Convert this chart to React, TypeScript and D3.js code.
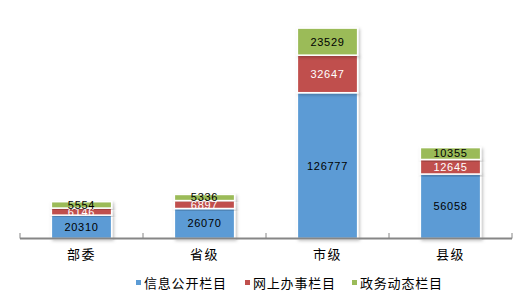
import React from "react";
import * as d3 from "d3";

const categories = ["部委", "省级", "市级", "县级"];
const seriesNames = ["信息公开栏目", "网上办事栏目", "政务动态栏目"];
const infoValues = [20310, 26070, 126777, 56058];
const serviceValues = [6146, 6897, 32647, 12645];
const newsValues = [5554, 5336, 23529, 10355];
const colors = ["#5B9BD5", "#C0504D", "#9BBB59"];
const labelColors = ["#000", "#fff", "#000"];

const W = 524;
const H = 306;

export default function App() {
  const x = d3.scaleBand<string>().domain(categories).range([20, 512]).paddingInner(0).paddingOuter(0);
  const y = d3.scaleLinear().domain([0, 200000]).range([238.5, 8.5]);
  const rows = categories.map((c, i) => ({
    cat: c,
    s0: infoValues[i],
    s1: serviceValues[i],
    s2: newsValues[i],
  }));
  const stack = d3.stack<any>().keys(["s0", "s1", "s2"]);
  const layers = stack(rows);
  const bw = x.bandwidth() * 0.49;
  const num = "'Liberation Sans', Arial, sans-serif";
  const cjk = "'Noto Sans CJK SC', sans-serif";
  const ticks = [...categories.map((c) => x(c)!), 512];
  const legendX = [136, 245, 352];

  return (
    <svg width={W} height={H} style={{ position: "absolute", left: 0, top: 0 }}>
      <defs>
        <filter id="sh" x="-20%" y="-20%" width="140%" height="140%">
          <feDropShadow dx="1.5" dy="1.5" stdDeviation="1.5" floodColor="#000" floodOpacity="0.25" />
        </filter>
      </defs>
      <rect width={W} height={H} fill="#fff" />
      {layers.map((layer, li) =>
        layer.map((d, i) => {
          const cx = x(categories[i])! + x.bandwidth() / 2;
          const y0 = y(d[0]);
          const y1 = y(d[1]);
          return (
            <rect
              key={`r${li}-${i}`}
              x={cx - bw / 2}
              y={y1}
              width={bw}
              height={y0 - y1}
              fill={colors[li]}
              stroke="#fff"
              strokeWidth={1.5}
              filter="url(#sh)"
            />
          );
        })
      )}
      {layers.map((layer, li) =>
        layer.map((d, i) => {
          const cx = x(categories[i])! + x.bandwidth() / 2;
          const cy = (y(d[0]) + y(d[1])) / 2;
          return (
            <text
              key={`t${li}-${i}`}
              x={cx}
              y={cy}
              dy="0.36em"
              textAnchor="middle"
              fontFamily={num}
              fontSize={11}
              letterSpacing={0.7}
              fill={labelColors[li]}
            >
              {d[1] - d[0]}
            </text>
          );
        })
      )}
      <line x1={20} x2={512} y1={238.5} y2={238.5} stroke="#868686" strokeWidth={2} />
      {ticks.map((t, i) => (
        <line key={`k${i}`} x1={t} x2={t} y1={233} y2={238.5} stroke="#868686" strokeWidth={1} />
      ))}
      {categories.map((c) => (
        <text
          key={c}
          x={x(c)! + x.bandwidth() / 2}
          y={259}
          textAnchor="middle"
          fontFamily={cjk}
          fontSize={13}
          letterSpacing={1.5}
          fill="#000"
        >
          {c}
        </text>
      ))}
      {seriesNames.map((s, i) => (
        <g key={s}>
          <rect x={legendX[i]} y={280} width={5} height={5} fill={colors[i]} />
          <text x={legendX[i] + 8} y={287.5} fontFamily={cjk} fontSize={13} letterSpacing={0.8} fill="#000">
            {s}
          </text>
        </g>
      ))}
    </svg>
  );
}
